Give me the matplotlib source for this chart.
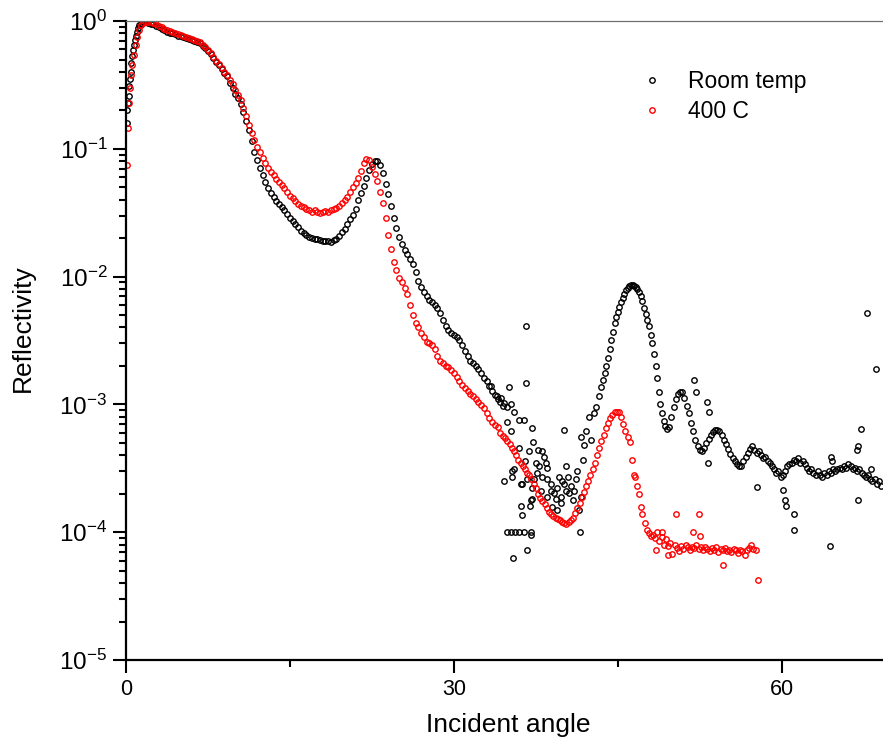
import matplotlib
matplotlib.use("Agg")
import matplotlib.pyplot as plt
from matplotlib.ticker import LogLocator, FixedLocator, NullFormatter

plt.rcParams["font.family"] = ["Liberation Sans", "DejaVu Sans"]
plt.rcParams["mathtext.fontset"] = "custom"
plt.rcParams["mathtext.rm"] = "Liberation Sans"

# Room temp: (angle, reflectivity)
room_rise = [(0.05, 0.16), (0.12, 0.20), (0.18, 0.23), (0.24, 0.26), (0.30, 0.31),
             (0.36, 0.35), (0.43, 0.40), (0.50, 0.47), (0.57, 0.53), (0.64, 0.59),
             (0.72, 0.65), (0.80, 0.71), (0.89, 0.77), (0.98, 0.82), (1.10, 0.88),
             (1.22, 0.93), (1.33, 0.95), (1.44, 0.97), (1.56, 0.98), (1.68, 0.985),
             (1.80, 0.98), (1.92, 0.975)]
room_decay = [(2.00, 0.97), (2.25, 0.955), (2.50, 0.94), (2.75, 0.92), (3.00, 0.90),
              (3.25, 0.87), (3.50, 0.845), (3.75, 0.82), (4.00, 0.81), (4.25, 0.80),
              (4.50, 0.785), (4.75, 0.77), (5.00, 0.76), (5.25, 0.75), (5.50, 0.735),
              (5.75, 0.72), (6.00, 0.71), (6.25, 0.70), (6.50, 0.685), (6.75, 0.67),
              (7.00, 0.64), (7.25, 0.61), (7.50, 0.58), (7.75, 0.55), (8.00, 0.51),
              (8.25, 0.48), (8.50, 0.45), (8.75, 0.42), (9.00, 0.39), (9.25, 0.37),
              (9.50, 0.33), (9.75, 0.30), (10.00, 0.27), (10.25, 0.25), (10.50, 0.225),
              (10.75, 0.195), (11.00, 0.165), (11.25, 0.14), (11.50, 0.115), (11.75, 0.095),
              (12.00, 0.082), (12.25, 0.071), (12.50, 0.062), (12.75, 0.055), (13.00, 0.049),
              (13.25, 0.045), (13.50, 0.042), (13.75, 0.039), (14.00, 0.037), (14.25, 0.035),
              (14.50, 0.033), (14.75, 0.031), (15.00, 0.029), (15.25, 0.0272), (15.50, 0.0258),
              (15.75, 0.0243), (16.00, 0.0228), (16.25, 0.0219), (16.50, 0.0211), (16.75, 0.0205),
              (17.00, 0.0201), (17.25, 0.0198), (17.50, 0.0196), (17.75, 0.0193), (18.00, 0.0191),
              (18.25, 0.0189), (18.50, 0.0190), (18.75, 0.0188), (19.00, 0.0193), (19.25, 0.0198),
              (19.50, 0.0208), (19.75, 0.0222), (20.00, 0.0238), (20.25, 0.026), (20.50, 0.028),
              (20.75, 0.0305), (21.00, 0.034), (21.25, 0.040), (21.50, 0.045), (21.75, 0.051),
              (22.00, 0.059), (22.25, 0.068), (22.50, 0.076), (22.75, 0.081), (23.00, 0.081),
              (23.25, 0.075), (23.50, 0.065), (23.75, 0.053), (24.00, 0.044), (24.25, 0.036),
              (24.50, 0.029), (24.75, 0.024), (25.00, 0.0205), (25.25, 0.018), (25.50, 0.0163),
              (25.75, 0.0150), (26.00, 0.0137), (26.25, 0.0125), (26.50, 0.0108), (26.75, 0.0093),
              (27.00, 0.0083), (27.25, 0.0076), (27.50, 0.0070), (27.75, 0.0066), (28.00, 0.0063),
              (28.25, 0.0060), (28.50, 0.0057), (28.75, 0.0052), (29.00, 0.0046), (29.25, 0.0041),
              (29.50, 0.0038), (29.75, 0.0036), (30.00, 0.0035), (30.25, 0.0034), (30.50, 0.0032),
              (30.75, 0.0029), (31.00, 0.0026), (31.25, 0.0024), (31.50, 0.0022), (31.75, 0.0021),
              (32.00, 0.0020), (32.25, 0.00188), (32.50, 0.00175), (32.75, 0.00162), (33.00, 0.00152),
              (33.25, 0.00140), (33.50, 0.00128), (33.75, 0.00118), (34.00, 0.00110), (34.25, 0.00104),
              (34.50, 0.00098)]
room_noisy = [(33.36, 0.00139), (33.98, 0.00116), (34.28, 0.00112), (34.56, 0.00103),
              (34.89, 0.00096), (35.04, 0.00137), (35.20, 0.00100), (35.50, 0.00088),
              (34.89, 0.00073), (35.20, 0.00062), (35.96, 0.00076), (36.42, 0.00076),
              (36.57, 0.0041), (36.57, 0.00146), (37.19, 0.00065), (35.96, 0.00046),
              (34.58, 0.00025), (35.29, 0.00030), (35.50, 0.00031), (35.29, 0.00027),
              (36.11, 0.00024), (36.27, 0.00024), (36.73, 0.00026), (37.27, 0.00051),
              (36.88, 0.00043), (37.70, 0.00044), (38.10, 0.00043), (38.25, 0.00039),
              (37.49, 0.00035), (37.80, 0.00033), (38.41, 0.00035), (38.56, 0.00032),
              (37.64, 0.00029), (38.10, 0.00027), (38.56, 0.00026), (38.86, 0.00024),
              (37.34, 0.00026), (37.19, 0.00022), (37.03, 0.000178), (36.97, 0.000159),
              (36.11, 0.000159), (36.20, 0.000137), (37.19, 0.000182), (38.56, 0.000187),
              (38.86, 0.00021), (39.17, 0.000204), (39.47, 0.00022), (39.32, 0.000182),
              (39.78, 0.000187), (40.08, 0.00024), (40.24, 0.00021), (40.54, 0.000204),
              (40.70, 0.00023), (41.00, 0.00021), (41.16, 0.00026), (41.31, 0.00030),
              (39.02, 0.000157), (39.47, 0.000150), (39.78, 0.000170), (40.24, 0.00033),
              (40.08, 0.00063), (41.52, 0.000101), (41.46, 0.000150), (41.61, 0.000187),
              (41.77, 0.00037), (41.92, 0.00048), (41.61, 0.00056), (42.07, 0.00062),
              (42.38, 0.00080), (42.53, 0.00053), (42.84, 0.00085), (42.99, 0.00096),
              (43.30, 0.00116), (34.89, 0.00010), (35.20, 0.00010), (35.60, 0.00010),
              (35.96, 0.00010), (36.42, 0.00010), (37.03, 0.00010), (37.03, 0.000095),
              (35.44, 0.000063), (36.73, 0.000073), (39.60, 0.00027), (40.90, 0.00018),
              (38.00, 0.00021), (39.90, 0.00025), (40.40, 0.00027), (36.50, 0.00036)]
room_peak = [(43.50, 0.00138), (43.65, 0.00155), (43.80, 0.00175), (43.95, 0.0020),
             (44.10, 0.0023), (44.25, 0.0027), (44.40, 0.0032), (44.55, 0.0037),
             (44.70, 0.0043), (44.85, 0.0048), (45.00, 0.0053), (45.15, 0.0058),
             (45.30, 0.0063), (45.45, 0.0068), (45.60, 0.0073), (45.75, 0.0078),
             (45.90, 0.0082), (46.05, 0.0085), (46.20, 0.0086), (46.35, 0.0086),
             (46.50, 0.0085), (46.65, 0.0083), (46.80, 0.0080), (46.95, 0.0076),
             (47.10, 0.0071), (47.25, 0.0064), (47.40, 0.0057), (47.55, 0.0051),
             (47.70, 0.0046), (47.85, 0.0041), (48.00, 0.0035), (48.15, 0.0030),
             (48.30, 0.0025), (48.45, 0.0020), (48.60, 0.0016), (48.75, 0.00125),
             (48.90, 0.00100), (49.05, 0.00085), (49.20, 0.00074), (49.35, 0.00068)]
room_tail = [(49.50, 0.00064), (49.70, 0.00066), (49.90, 0.00080), (50.10, 0.00095),
             (50.30, 0.00110), (50.50, 0.00120), (50.70, 0.00126), (50.90, 0.00124),
             (51.10, 0.00112), (51.30, 0.00098), (51.50, 0.00085), (51.70, 0.00072),
             (51.90, 0.00062), (52.10, 0.00053), (52.30, 0.00047), (52.50, 0.00044),
             (52.70, 0.00043), (52.90, 0.00046), (53.10, 0.00050), (53.30, 0.00054),
             (53.50, 0.00058), (53.70, 0.00061), (53.90, 0.00063), (54.10, 0.00063),
             (54.30, 0.00062), (54.50, 0.00058), (54.70, 0.00053), (54.90, 0.00049),
             (55.10, 0.00045), (55.30, 0.00041), (55.50, 0.00038), (55.70, 0.00036),
             (55.90, 0.00034), (56.10, 0.00033), (56.30, 0.00033), (56.50, 0.00036),
             (56.70, 0.00039), (56.90, 0.00042), (57.10, 0.00045), (57.30, 0.00047),
             (57.50, 0.00044), (57.70, 0.00042), (57.90, 0.00043), (58.10, 0.00040),
             (58.30, 0.00038), (58.50, 0.00039), (58.70, 0.00036), (58.90, 0.00035),
             (59.10, 0.00033), (59.30, 0.00031), (59.50, 0.00029), (59.70, 0.00030),
             (59.90, 0.00027), (60.10, 0.00028), (60.30, 0.00030), (60.50, 0.00033),
             (60.70, 0.00034), (60.90, 0.00035), (61.10, 0.00037), (61.30, 0.00036),
             (61.50, 0.00038), (61.70, 0.00035), (61.90, 0.00036), (62.10, 0.00034),
             (62.30, 0.00032), (62.50, 0.00030), (62.70, 0.00031), (62.90, 0.00029),
             (63.10, 0.00028), (63.30, 0.00030), (63.50, 0.00028), (63.70, 0.00027),
             (63.90, 0.00029), (64.10, 0.00028), (64.30, 0.00030), (64.50, 0.00029),
             (64.70, 0.00031), (64.90, 0.00030), (65.10, 0.00031), (65.30, 0.00032),
             (65.50, 0.00031), (65.70, 0.00033), (65.90, 0.00032), (66.10, 0.00034),
             (66.30, 0.00033), (66.50, 0.00031), (66.70, 0.00032), (66.90, 0.00030),
             (67.10, 0.00031), (67.30, 0.00029), (67.50, 0.00028), (67.70, 0.00027),
             (67.90, 0.00028), (68.10, 0.00026), (68.30, 0.00025), (68.50, 0.00026),
             (68.70, 0.00024), (68.90, 0.00025), (69.10, 0.00023)]
room_outliers = [(52.00, 0.00155), (52.16, 0.00126), (53.20, 0.00104), (53.37, 0.00088),
                 (53.27, 0.00035), (57.74, 0.000227), (60.10, 0.000215), (60.31, 0.000178),
                 (60.37, 0.000159), (61.10, 0.000138), (61.10, 0.000105), (64.37, 0.000078),
                 (64.53, 0.00039), (64.60, 0.00036), (66.97, 0.00047), (66.90, 0.00044),
                 (67.28, 0.00064), (66.97, 0.000180), (67.83, 0.0052), (68.59, 0.0019),
                 (68.13, 0.00031)]

# 400 C
hot_rise = [(0.06, 0.075), (0.21, 0.146), (0.30, 0.23), (0.37, 0.30), (0.45, 0.38),
            (0.58, 0.45), (0.73, 0.54), (0.89, 0.65), (1.04, 0.75), (1.19, 0.85),
            (1.37, 0.93), (1.59, 0.97), (1.80, 0.985)]
hot_decay = [(2.00, 0.985), (2.25, 0.975), (2.50, 0.96), (2.75, 0.94), (3.00, 0.92),
             (3.25, 0.895), (3.50, 0.87), (3.75, 0.85), (4.00, 0.83), (4.25, 0.815),
             (4.50, 0.80), (4.75, 0.785), (5.00, 0.775), (5.25, 0.765), (5.50, 0.75),
             (5.75, 0.735), (6.00, 0.725), (6.25, 0.71), (6.50, 0.695), (6.75, 0.68),
             (7.00, 0.655), (7.25, 0.625), (7.50, 0.595), (7.75, 0.565), (8.00, 0.525),
             (8.25, 0.49), (8.50, 0.46), (8.75, 0.43), (9.00, 0.40), (9.25, 0.375),
             (9.50, 0.345), (9.75, 0.32), (10.00, 0.29), (10.25, 0.265), (10.50, 0.24),
             (10.75, 0.21), (11.00, 0.18), (11.25, 0.155), (11.50, 0.132), (11.75, 0.117),
             (12.00, 0.104), (12.25, 0.094), (12.50, 0.085), (12.75, 0.077), (13.00, 0.071),
             (13.25, 0.066), (13.50, 0.062), (13.75, 0.058), (14.00, 0.055), (14.25, 0.052),
             (14.50, 0.049), (14.75, 0.046), (15.00, 0.043), (15.25, 0.041), (15.50, 0.039),
             (15.75, 0.037), (16.00, 0.0355), (16.25, 0.035), (16.50, 0.034), (16.75, 0.0330),
             (17.00, 0.0322), (17.25, 0.0330), (17.50, 0.0318), (17.75, 0.0312), (18.00, 0.0320),
             (18.25, 0.0325), (18.50, 0.0318), (18.75, 0.0330), (19.00, 0.0338), (19.25, 0.0345),
             (19.50, 0.0360), (19.75, 0.0375), (20.00, 0.0395), (20.25, 0.042), (20.50, 0.046),
             (20.75, 0.050), (21.00, 0.054), (21.25, 0.059), (21.50, 0.067), (21.75, 0.077),
             (22.00, 0.084), (22.25, 0.082), (22.50, 0.072), (22.75, 0.063), (23.00, 0.056),
             (23.25, 0.046), (23.50, 0.038), (23.75, 0.029), (24.00, 0.021), (24.25, 0.0165),
             (24.50, 0.0130), (24.75, 0.0112), (25.00, 0.0098), (25.25, 0.0090), (25.50, 0.0081),
             (25.75, 0.0073), (26.00, 0.0060), (26.25, 0.0050), (26.50, 0.0043), (26.75, 0.0040),
             (27.00, 0.0036), (27.25, 0.0034), (27.50, 0.0031), (27.75, 0.0030), (28.00, 0.0029),
             (28.25, 0.0027), (28.50, 0.0024), (28.75, 0.0022), (29.00, 0.0021), (29.25, 0.0020),
             (29.50, 0.00195), (29.75, 0.00185), (30.00, 0.00175), (30.25, 0.00165), (30.50, 0.00152),
             (30.75, 0.00142), (31.00, 0.00135), (31.25, 0.00128), (31.50, 0.00120), (31.75, 0.00116),
             (32.00, 0.00110), (32.25, 0.00104), (32.50, 0.00099), (32.75, 0.00094), (33.00, 0.00086),
             (33.25, 0.00078), (33.50, 0.00073), (33.75, 0.00069), (34.00, 0.00066), (34.25, 0.00060),
             (34.50, 0.00057)]
hot_valley = [(34.70, 0.00055), (34.90, 0.00052), (35.10, 0.00049), (35.30, 0.00046),
              (35.50, 0.00043), (35.70, 0.00040), (35.90, 0.00037), (36.10, 0.00035),
              (36.30, 0.00033), (36.50, 0.00031), (36.70, 0.00029), (36.90, 0.00028),
              (37.10, 0.00026), (37.30, 0.00024), (37.50, 0.00022), (37.70, 0.00020),
              (37.90, 0.000185), (38.10, 0.000175), (38.30, 0.000165), (38.50, 0.000155),
              (38.70, 0.000145), (38.90, 0.000140), (39.10, 0.000135), (39.30, 0.000130),
              (39.50, 0.000128), (39.70, 0.000124), (39.90, 0.000121), (40.10, 0.000118),
              (40.30, 0.000116), (40.50, 0.000120), (40.70, 0.000124), (40.90, 0.000130),
              (41.10, 0.000142), (41.30, 0.000155), (41.50, 0.000170), (41.70, 0.000188),
              (41.90, 0.000207), (42.10, 0.00023), (42.30, 0.00025), (42.50, 0.00028),
              (42.70, 0.00031), (42.90, 0.00035), (43.10, 0.00040), (43.30, 0.00046),
              (43.50, 0.00052), (43.70, 0.00058), (43.90, 0.00065), (44.10, 0.00072),
              (44.30, 0.00078), (44.50, 0.00083), (44.70, 0.00087), (44.90, 0.00088),
              (45.10, 0.00087), (45.30, 0.00080), (45.50, 0.00070), (45.70, 0.00062),
              (45.90, 0.00056), (46.10, 0.00051), (46.30, 0.00037), (46.45, 0.00028),
              (46.60, 0.00027), (46.80, 0.00023), (46.95, 0.00020), (47.10, 0.000158),
              (47.25, 0.000138), (47.45, 0.000118), (47.65, 0.000105), (47.85, 0.000098),
              (48.05, 0.000093)]
hot_tail = [(48.20, 0.000095), (48.40, 0.000090), (48.60, 0.000100), (48.80, 0.000085),
            (49.00, 0.000092), (49.20, 0.000080), (49.40, 0.000088), (49.60, 0.000078),
            (49.80, 0.000083), (50.00, 0.000068), (50.20, 0.000080), (50.40, 0.000075),
            (50.60, 0.000071), (50.80, 0.000078), (51.00, 0.000074), (51.20, 0.000080),
            (51.40, 0.000076), (51.60, 0.000073), (51.80, 0.000077), (52.00, 0.000075),
            (52.20, 0.000079), (52.40, 0.000074), (52.60, 0.000076), (52.80, 0.000072),
            (53.00, 0.000077), (53.20, 0.000074), (53.40, 0.000071), (53.60, 0.000075),
            (53.80, 0.000073), (54.00, 0.000076), (54.20, 0.000070), (54.40, 0.000074),
            (54.60, 0.000072), (54.80, 0.000075), (55.00, 0.000071), (55.20, 0.000073),
            (55.40, 0.000070), (55.60, 0.000074), (55.80, 0.000072), (56.00, 0.000069),
            (56.20, 0.000073), (56.40, 0.000071), (56.60, 0.000066), (56.80, 0.000072),
            (57.00, 0.000075), (57.20, 0.000080), (57.40, 0.000074), (57.60, 0.000073),
            (57.80, 0.000042)]
hot_outliers = [(50.35, 0.000138), (52.46, 0.000138), (54.60, 0.000055), (49.56, 0.000066),
                (48.49, 0.000073), (51.90, 0.000100), (52.55, 0.000093), (49.04, 0.000100)]

room = room_rise + room_decay + room_noisy + room_peak + room_tail + room_outliers
hot = hot_rise + hot_decay + hot_valley + hot_tail + hot_outliers

fig = plt.figure(figsize=(8.83, 7.49), dpi=100)
ax = fig.add_axes([0.1427, 0.1188, 0.8664, 0.8531])

ax.plot([p[0] for p in room], [p[1] for p in room], "o", ls="none", ms=3.9,
        mfc="none", mec="black", mew=1.0, label="Room temp")
ax.plot([p[0] for p in hot], [p[1] for p in hot], "o", ls="none", ms=3.9,
        mfc="none", mec="#ff0000", mew=1.0, label="400 C")

ax.set_yscale("log")
ax.set_xlim(0, 70)
ax.set_ylim(1e-5, 1)

ax.xaxis.set_major_locator(FixedLocator([0, 30, 60]))
ax.xaxis.set_minor_locator(FixedLocator([15, 45]))
ax.yaxis.set_major_locator(LogLocator(base=10, numticks=10))
ax.yaxis.set_minor_locator(LogLocator(base=10, subs=range(2, 10), numticks=10))
ax.yaxis.set_minor_formatter(NullFormatter())

ax.tick_params(which="major", direction="out", length=9.5, width=1.5, pad=4)
ax.tick_params(which="minor", direction="out", length=5, width=1.5)
ax.tick_params(axis="x", labelsize=15.5)
ax.tick_params(axis="y", labelsize=17.5)

ax.spines["left"].set_linewidth(1.6)
ax.spines["bottom"].set_linewidth(1.6)
ax.spines["top"].set_linewidth(0.9)
ax.spines["top"].set_color("#707070")
ax.spines["right"].set_visible(False)

ax.set_xlabel("Incident angle", fontsize=19)
ax.set_ylabel("Reflectivity", fontsize=19)
ax.xaxis.set_label_coords(0.5, -0.083)
ax.yaxis.set_label_coords(-0.119, 0.52)

ax.legend(frameon=False, loc="upper left", bbox_to_anchor=(0.645, 0.955),
          fontsize=16.5, handlelength=1.0, handletextpad=1.07, labelspacing=0.28,
          markerscale=1.0)

fig.savefig("out.png", dpi=100)
